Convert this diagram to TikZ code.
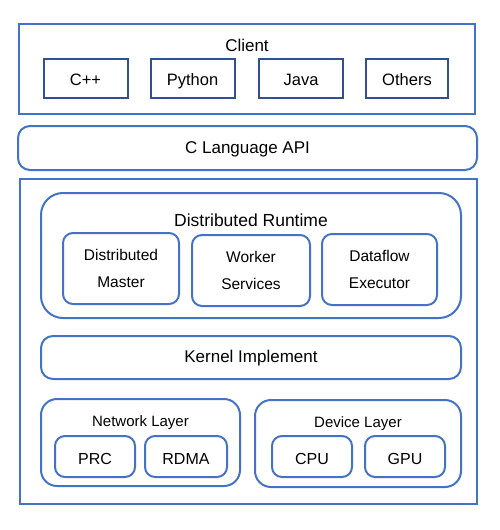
\documentclass[tikz,border=0pt]{standalone}
\usepackage{fontspec}
\setmainfont{Liberation Sans}
\definecolor{layerblue}{HTML}{4472C4}
\definecolor{darkblue}{HTML}{2F528F}
\begin{document}
\begin{tikzpicture}[x=1pt,y=-1pt,
		layer/.style={draw=layerblue, line width=2pt},
		roundlayer/.style={layer, rounded corners=#1},
		roundlayer/.default=12pt,
		lang/.style={draw=darkblue, line width=2pt, minimum width=84pt, minimum height=39pt, text height=14pt, text depth=0.2pt, font=\fontsize{16.5}{19}\selectfont},
		part/.style={draw=layerblue, line width=2pt, rounded corners=10pt, align=center, font=\fontsize{15.5}{27}\selectfont},
		unit/.style={part, minimum width=80pt, minimum height=41pt, text height=15pt, text depth=0pt, font=\fontsize{16}{19}\selectfont},
		title/.style={font=\fontsize{17}{20}\selectfont}]
			\useasboundingbox (0,0) rectangle (499,530);
			% client layer
			\draw[layer] (19,24) rectangle (475,114);
			\node[title] (client) at (247,45) {Client};
			\node[lang] (cpp) at (85.5,78.5) {C++};
			\node[lang] (python) at (192.5,78.5) {Python};
			\node[lang] (java) at (301,78.5) {Java};
			\node[lang, minimum width=82pt] (others) at (407,78.5) {Others};
			% api
			\draw[roundlayer] (18,126) rectangle (477,170);
			\node[font=\fontsize{17}{20}\selectfont] (api) at (247.5,149) {C Language API};
			% runtime
			\draw[layer] (20,179) rectangle (477,504);
			\draw[roundlayer=22pt] (41,193) rectangle (461,318);
			\node[title, font=\fontsize{17.5}{20}\selectfont] (runtime) at (251,220) {Distributed Runtime};
			\node[part, minimum width=116pt, minimum height=71pt] (master) at (121,268.5) {Distributed\\Master};
			\node[part, minimum width=118pt, minimum height=71pt] (worker) at (251,270.5) {Worker\\Services};
			\node[part, minimum width=115pt, minimum height=71pt] (dataflow) at (379.5,269.5) {Dataflow\\Executor};
			% kernel
			\draw[roundlayer] (41,336) rectangle (461,379);
			\node[font=\fontsize{17}{20}\selectfont] (kernel) at (251,358) {Kernel Implement};
			% network and device
			\draw[roundlayer=16pt] (41,399) rectangle (240,486);
			\node[font=\fontsize{15}{18}\selectfont] (network) at (140.5,423) {Network Layer};
			\node[unit] (prc) at (95,456.5) {PRC};
			\node[unit, minimum width=82pt] (rdma) at (186,456.5) {RDMA};
			\draw[roundlayer=16pt] (255,400) rectangle (461,487);
			\node[font=\fontsize{15}{18}\selectfont] (device) at (358,424) {Device Layer};
			\node[unit] (cpu) at (312,456.5) {CPU};
			\node[unit] (gpu) at (405,456.5) {GPU};
		\end{tikzpicture}
\end{document}
